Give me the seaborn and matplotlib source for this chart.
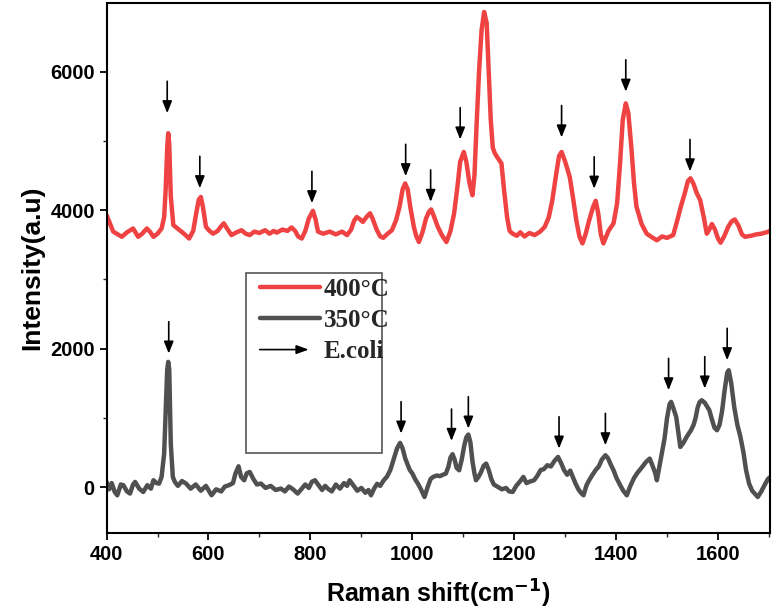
import matplotlib
matplotlib.use('Agg')
import matplotlib.pyplot as plt
import seaborn as sns
from matplotlib.lines import Line2D
from matplotlib.patches import FancyArrowPatch, Rectangle
from matplotlib.legend_handler import HandlerBase
from matplotlib.ticker import MultipleLocator

# Raman spectra
shift_400 = [400, 408, 413, 422, 430, 440, 452, 462, 470, 479, 486, 492, 500, 508, 513, 516, 519, 521, 523, 526,
             531, 540, 547, 555, 562, 570, 577, 581, 585, 589, 595, 602, 609, 618, 624, 630, 636, 645, 655, 665,
             673, 681, 690, 700, 711, 720, 728, 734, 745, 755, 763, 770, 776, 783, 790, 797, 805, 810, 815, 825,
             838, 850, 862, 872, 880, 886, 891, 897, 903, 910, 917, 922, 930, 937, 943, 950, 960, 968, 975, 981,
             986, 991, 996, 1003, 1008, 1013, 1020, 1027, 1033, 1037, 1042, 1050, 1058, 1067, 1075, 1082, 1088, 1094, 1101, 1106,
             1112, 1118, 1122, 1126, 1131, 1136, 1141, 1146, 1150, 1154, 1158, 1162, 1168, 1175, 1180, 1186, 1191, 1197, 1205, 1212,
             1220, 1230, 1240, 1251, 1260, 1268, 1275, 1282, 1288, 1293, 1300, 1309, 1315, 1322, 1328, 1334, 1340, 1347, 1355, 1360,
             1365, 1370, 1375, 1385, 1395, 1402, 1408, 1413, 1419, 1424, 1430, 1435, 1440, 1450, 1460, 1470, 1480, 1490, 1500, 1512,
             1520, 1527, 1535, 1541, 1546, 1552, 1558, 1565, 1572, 1578, 1583, 1588, 1594, 1600, 1605, 1612, 1620, 1627, 1633, 1640,
             1647, 1653, 1665, 1675, 1685, 1695, 1702]
int_400 = [3930, 3780, 3690, 3650, 3615, 3680, 3735, 3615, 3660, 3735, 3680, 3615, 3660, 3735, 3900, 4300, 4900, 5110, 4950, 4200,
           3785, 3730, 3690, 3640, 3590, 3700, 4000, 4150, 4190, 4050, 3760, 3700, 3660, 3700, 3760, 3810, 3740, 3640, 3680, 3710,
           3660, 3640, 3690, 3670, 3710, 3660, 3700, 3675, 3720, 3700, 3750, 3700, 3620, 3590, 3700, 3880, 3990, 3870, 3690, 3660,
           3690, 3650, 3690, 3640, 3720, 3850, 3900, 3870, 3830, 3900, 3955, 3880, 3720, 3620, 3600, 3650, 3710, 3850, 4050, 4300,
           4385, 4300, 4050, 3760, 3620, 3540, 3680, 3880, 3980, 4010, 3920, 3760, 3640, 3540, 3700, 3950, 4300, 4700, 4840, 4700,
           4400, 4215, 4500, 5200, 6000, 6600, 6860, 6700, 6000, 5300, 4900, 4820, 4750, 4675, 4300, 3900, 3700, 3660, 3630, 3680,
           3620, 3670, 3640, 3690, 3760, 3900, 4150, 4500, 4780, 4840, 4700, 4480, 4200, 3850, 3620, 3520, 3650, 3850, 4050, 4135,
           3950, 3650, 3520, 3700, 3810, 4100, 4700, 5300, 5540, 5400, 4900, 4400, 4050, 3800, 3660, 3610, 3565, 3620, 3600, 3640,
           3850, 4050, 4250, 4420, 4460, 4380, 4250, 4145, 3900, 3660, 3720, 3800, 3720, 3590, 3530, 3620, 3760, 3840, 3865, 3780,
           3650, 3615, 3630, 3650, 3660, 3680, 3700]

shift_350 = [400, 405, 410, 416, 421, 428, 433, 440, 446, 452, 456, 464, 472, 480, 487, 492, 498, 503, 508, 513,
             516, 519, 521, 523, 526, 530, 534, 540, 548, 556, 565, 575, 585, 595, 606, 615, 625, 632, 640, 648,
             653, 659, 664, 670, 675, 681, 688, 695, 703, 712, 722, 732, 742, 750, 758, 766, 775, 783, 790, 797,
             803, 809, 816, 823, 829, 834, 842, 850, 858, 866, 872, 877, 884, 892, 900, 908, 914, 919, 925, 931,
             937, 944, 950, 957, 965, 970, 976, 981, 986, 990, 995, 1000, 1006, 1011, 1017, 1024, 1030, 1036, 1041, 1048,
             1054, 1060, 1066, 1071, 1075, 1079, 1083, 1087, 1092, 1097, 1102, 1106, 1110, 1114, 1118, 1122, 1125, 1130, 1135, 1140,
             1145, 1150, 1155, 1160, 1168, 1176, 1184, 1190, 1197, 1204, 1212, 1218, 1224, 1230, 1239, 1245, 1252, 1258, 1265, 1272,
             1279, 1286, 1292, 1298, 1304, 1310, 1315, 1320, 1326, 1331, 1336, 1342, 1347, 1353, 1360, 1366, 1372, 1379, 1384, 1390,
             1395, 1401, 1408, 1414, 1421, 1428, 1435, 1441, 1446, 1452, 1458, 1466, 1472, 1477, 1480, 1485, 1490, 1495, 1500, 1505,
             1508, 1512, 1518, 1522, 1526, 1532, 1538, 1543, 1547, 1552, 1556, 1560, 1564, 1568, 1574, 1579, 1583, 1588, 1593, 1598,
             1603, 1608, 1613, 1618, 1621, 1626, 1632, 1638, 1644, 1650, 1655, 1661, 1667, 1673, 1678, 1685, 1692, 1698, 1703]
int_350 = [77, -30, 60, -68, -116, 40, 29, -60, -91, 40, 77, -20, -68, 30, -20, 101, 60, 53, 150, 487,
           1100, 1700, 1810, 1700, 631, 150, 77, 20, 90, 53, -20, 40, -50, 20, -116, -30, -60, 10, 29, 60,
           200, 303, 150, 101, 200, 221, 120, 40, 53, -10, 20, -40, -19, -60, 10, -30, -91, -20, 40, -10,
           80, 101, 30, -40, 20, -19, -60, 40, -20, 60, 20, 101, 30, -50, -10, -80, -40, -116, -20, 50,
           20, 101, 150, 250, 438, 560, 640, 560, 420, 342, 250, 200, 110, 53, -30, -140, 0, 120, 149, 170,
           160, 180, 198, 300, 430, 477, 400, 280, 245, 400, 600, 720, 761, 650, 380, 200, 101, 150, 220, 310,
           342, 250, 120, 40, 5, -30, -10, -60, -68, 20, 90, 149, 60, 80, 101, 160, 250, 260, 318, 300,
           380, 438, 350, 245, 180, 240, 149, 60, -30, -80, -116, 30, 100, 173, 250, 300, 400, 462, 420, 320,
           245, 130, 30, -50, -116, 20, 130, 200, 245, 300, 360, 414, 300, 200, 101, 300, 500, 700, 1000, 1200,
           1232, 1150, 1015, 800, 582, 640, 720, 780, 823, 900, 1000, 1150, 1230, 1256, 1220, 1160, 1112, 980, 860, 823,
           900, 1100, 1400, 1650, 1689, 1500, 1150, 900, 727, 500, 250, 53, -50, -100, -140, -60, 40, 120, 149]

# E.coli band markers (arrow x position, arrow tip intensity)
arrow_x_400 = [519, 583, 803, 987, 1036, 1094, 1293, 1357, 1419, 1545]
arrow_tip_400 = [5400, 4317, 4100, 4490, 4120, 5020, 5050, 4310, 5710, 4560]
arrow_x_350 = [522, 978, 1077, 1110, 1288, 1379, 1503, 1574, 1618]
arrow_tip_350 = [1930, 775, 669, 847, 558, 606, 1400, 1425, 1834]
arrow_len = 460

red = '#EF4242'
gray = '#505050'

sns.set_style('ticks')
plt.rcParams['font.family'] = ['Liberation Sans', 'DejaVu Sans']
plt.rcParams['font.weight'] = 'bold'


class ArrowHandler(HandlerBase):
    def create_artists(self, legend, orig_handle, xdescent, ydescent, width, height, fontsize, trans):
        y = height / 2 - ydescent
        a = FancyArrowPatch((-xdescent, y), (width - xdescent - 8, y),
                            arrowstyle='-|>,head_length=0.6,head_width=0.22', mutation_scale=12,
                            lw=1.2, color='black', transform=trans, shrinkA=0, shrinkB=0)
        return [a]


fig = plt.figure(figsize=(7.74, 6.11), dpi=100)
ax = fig.add_axes([0.1377, 0.1277, 0.8571, 0.8674])

sns.lineplot(x=shift_400, y=int_400, ax=ax, color=red, lw=3.2, legend=False)
sns.lineplot(x=shift_350, y=int_350, ax=ax, color=gray, lw=3.2, legend=False)

for xs, tips in [(arrow_x_400, arrow_tip_400), (arrow_x_350, arrow_tip_350)]:
    for x, t in zip(xs, tips):
        ax.annotate('', xy=(x, t), xytext=(x, t + arrow_len),
                    arrowprops=dict(arrowstyle='-|>,head_length=0.6,head_width=0.24', mutation_scale=12,
                                    color='black', lw=1.2, shrinkA=0, shrinkB=0))

ax.set_xlim(400, 1702)
ax.set_ylim(-660, 6990)
ax.xaxis.set_major_locator(MultipleLocator(200))
ax.xaxis.set_minor_locator(MultipleLocator(100))
ax.yaxis.set_major_locator(MultipleLocator(2000))
ax.yaxis.set_minor_locator(MultipleLocator(1000))
ax.tick_params(axis='both', which='major', length=5, width=1.3, labelsize=14.5, colors='black')
ax.tick_params(axis='both', which='minor', length=3, width=1.0)
for s in ax.spines.values():
    s.set_linewidth(1.5)
    s.set_color('black')
for lab in ax.get_xticklabels() + ax.get_yticklabels():
    lab.set_fontweight('bold')

ax.set_xlabel('Raman shift(cm$^{\\mathbf{-1}}$)', fontsize=18, fontweight='bold', labelpad=10, color='black')
ax.set_ylabel('Intensity(a.u)', fontsize=19, fontweight='bold', labelpad=4, color='black')

# legend
handles = [Line2D([], [], color=red, lw=3.2), Line2D([], [], color=gray, lw=3.2), 'arrow']
labels = ['400°C', '350°C', 'E.coli']
leg = ax.legend(handles, labels, handler_map={str: ArrowHandler()}, loc='upper left',
                bbox_to_anchor=(0.212, 0.505), frameon=False, borderpad=0,
                handlelength=2.4, handletextpad=0.15, labelspacing=0.33,
                prop={'family': 'Liberation Serif', 'weight': 'bold', 'size': 18})
ax.add_patch(Rectangle((0.210, 0.151), 0.205, 0.3396, transform=ax.transAxes,
                       fill=False, edgecolor='#555555', lw=1.2, zorder=5))

fig.savefig('out.png', dpi=100)
